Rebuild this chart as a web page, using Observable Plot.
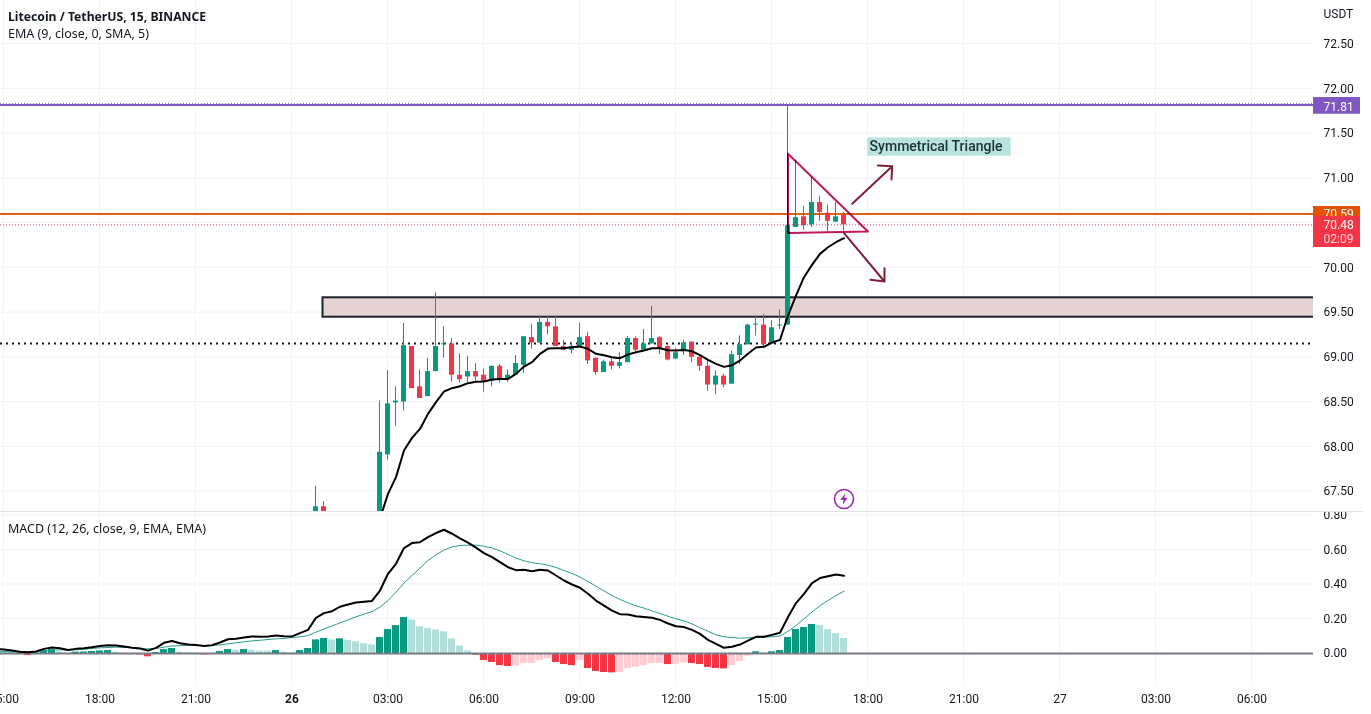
<!DOCTYPE html>
<html><head><meta charset="utf-8">
<script src="https://cdn.jsdelivr.net/npm/d3@7"></script>
<script src="https://cdn.jsdelivr.net/npm/@observablehq/plot@0.6"></script>
<style>html,body{margin:0;padding:0;background:#fff;overflow:hidden}svg{display:block;max-width:none}#a,#b{width:1371px}</style>
</head><body><div id="a"></div><div id="b"></div>
<script>
// bar index: 0 = 26th 00:00, one bar = 15 minutes
const candleBars=[3,4,11,12,13,14,15,16,17,18,19,20,21,22,23,24,25,26,27,28,29,30,31,32,33,34,35,36,37,38,39,40,41,42,43,44,45,46,47,48,49,50,51,52,53,54,55,56,57,58,59,60,61,62,63,64,65,66,67,68,69];
const opens=[67.24,67.33,66.9,67.91,68.49,68.5,69.12,68.67,68.56,68.84,69.14,69.15,68.8,68.78,68.84,68.8,68.73,68.9,68.75,68.8,68.91,69.22,69.16,69.39,69.34,69.12,69.08,69.12,69.23,68.99,68.83,68.95,68.9,68.94,69.21,69.08,69.15,69.22,69.12,68.98,69.06,69.17,69,68.9,68.69,68.79,68.7,69.02,69.14,69.36,69.36,69.15,69.35,69.36,70.45,70.57,70.48,70.73,70.61,70.51,70.59];
const highs=[67.56,67.39,68.51,68.85,68.67,69.38,69.12,68.86,68.99,69.72,69.34,69.21,69.04,69.01,68.93,68.87,68.9,68.92,68.86,69.02,69.23,69.37,69.46,69.46,69.46,69.19,69.17,69.38,69.28,68.99,68.97,69.01,69.05,69.23,69.23,69.31,69.57,69.23,69.13,69.1,69.19,69.17,69.02,68.97,68.85,68.81,69.07,69.24,69.37,69.46,69.48,69.41,69.53,71.81,71.2,70.69,71.01,70.8,70.7,70.73,70.62];
const lows=[67.2,67.2,66.8,67.85,68.23,68.4,68.65,68.54,68.56,68.84,68.99,68.72,68.71,68.72,68.72,68.61,68.67,68.71,68.72,68.8,68.82,69.09,69.16,69.25,69.12,69.08,69.04,69.12,68.92,68.8,68.83,68.86,68.87,68.94,69.06,69.08,69.15,69.03,68.96,68.98,69.02,68.94,68.84,68.62,68.58,68.66,68.7,68.92,69.14,69.24,69.11,69.15,69.31,69.36,70.45,70.42,70.45,70.52,70.4,70.51,70.4];
const closes=[67.33,67.24,67.94,68.48,68.51,69.13,68.65,68.54,68.84,69.12,69.15,68.8,68.75,68.84,68.78,68.73,68.9,68.75,68.8,68.93,69.23,69.16,69.39,69.34,69.12,69.08,69.12,69.22,68.96,68.83,68.95,68.9,68.94,69.21,69.08,69.15,69.21,69.09,68.97,69.05,69.16,69,68.9,68.69,68.79,68.69,69.03,69.14,69.36,69.37,69.14,69.33,69.36,70.47,70.56,70.47,70.73,70.62,70.52,70.57,70.48];

const emaFirstBar=11;
const emaValues=[67.2,67.474,67.661,67.959,68.1,68.2,68.368,68.499,68.618,68.655,68.677,68.711,68.726,68.73,68.752,68.759,68.759,68.815,68.897,68.945,69.039,69.098,69.102,69.102,69.113,69.121,69.094,69.039,69.024,69.001,68.99,69.031,69.057,69.076,69.102,69.102,69.08,69.076,69.083,69.068,69.024,68.972,68.927,68.893,68.912,68.964,69.039,69.109,69.117,69.165,69.195,69.467,69.69,69.895,70.033,70.156,70.23,70.286,70.331];

const macdFirstBar=-37;
const macdValues=[.027,.023,.017,.01,.008,.012,.027,.035,.031,.021,.027,.031,.037,.044,.048,.046,.041,.033,.029,.017,.033,.062,.073,.06,.052,.05,.044,.048,.064,.083,.085,.093,.099,.097,.099,.104,.1,.099,.118,.137,.207,.234,.245,.271,.284,.296,.3,.305,.365,.462,.52,.611,.64,.645,.674,.698,.717,.694,.667,.643,.613,.582,.558,.529,.5,.483,.485,.477,.485,.481,.452,.423,.4,.381,.346,.307,.278,.249,.228,.226,.216,.211,.207,.195,.174,.158,.153,.137,.114,.079,.056,.033,.039,.052,.075,.097,.097,.108,.12,.211,.292,.346,.408,.437,.448,.458,.45];
const signalValues=[.014,.012,.01,.008,.008,.01,.015,.019,.021,.021,.021,.025,.029,.033,.035,.037,.035,.035,.031,.027,.029,.037,.043,.046,.048,.048,.046,.046,.05,.056,.062,.068,.073,.077,.081,.085,.087,.093,.097,.104,.124,.143,.16,.178,.195,.213,.228,.243,.269,.307,.356,.408,.452,.495,.539,.572,.599,.618,.626,.628,.628,.622,.611,.595,.574,.553,.537,.526,.52,.512,.499,.481,.464,.443,.417,.39,.363,.336,.313,.294,.276,.263,.247,.232,.216,.201,.189,.172,.149,.129,.108,.097,.093,.089,.091,.093,.095,.097,.102,.129,.162,.201,.24,.278,.307,.336,.361];
const histValues=[.006,.006,.004,-.006,-.012,.002,.017,.023,.008,-.004,.008,.009,.012,.015,.017,.008,0,-.006,-.008,-.019,.006,.023,.029,.008,.004,.002,-.008,0,.012,.023,.019,.023,.019,.014,.013,.017,.008,.002,.017,.029,.079,.087,.079,.085,.075,.068,.056,.05,.093,.139,.162,.209,.193,.155,.145,.137,.126,.085,.044,.015,-.01,-.041,-.052,-.07,-.075,-.074,-.058,-.057,-.041,-.031,-.052,-.064,-.07,-.041,-.087,-.104,-.11,-.112,-.11,-.087,-.079,-.07,-.058,-.057,-.064,-.062,-.054,-.058,-.064,-.081,-.087,-.089,-.07,-.046,-.015,.01,.002,.01,.017,.093,.139,.151,.168,.162,.139,.116,.087];

const priceTicks=[67.5,68,68.5,69,69.5,70,71,71.5,72,72.5];
const priceGrid=[67.5,68,68.5,69,69.5,70,70.5,71,71.5,72,72.5];
const macdTicks=[0,.2,.4,.6,.8];
const timeTicks=[-36,-24,-12,12,24,36,48,60,72,84,96,108,120];
const timeLabels=["15:00","18:00","21:00","03:00","06:00","09:00","12:00","15:00","18:00","21:00","27","03:00","06:00"];
const dayTick=[0], dayLabel="26";
const gridBars=[-36,-24,-12,0,12,24,36,48,60,72,84,96,108,120];

const resistanceZone=[{x1:3.875,x2:130,y1:69.448,y2:69.665}];
const dottedLevel=[69.154], purpleLevel=[71.82], purpleDots=[71.835], orangeLevel=[70.6], lastPrice=[70.48];
const triangle=[[62,71.274],[72,70.406],[62,70.39],[62,71.274]];
const arrowUp=[[70.03,70.715],[75.03,71.135],[73.23,71.143],[75.03,71.135],[74.94,70.987]];
const arrowDown=[[68.98,70.391],[74.06,69.847],[72.31,69.866],[74.06,69.847],[74.06,69.996]];
const noteBox=[{x1:71.975,x2:89.9,y1:71.247,y2:71.452}];
const noteText=[{x:72.2,y:71.35,t:"Symmetrical Triangle"}];
const boltMark=[{x:69,y:67.417}];

const axisStart=127.69, axisEnd=133.56, axisLabelX=128.94;
const priceBoxes=[
 {y1:71.716,y2:71.903,c:"#7E57C2"},
 {y1:70.5,y2:70.685,c:"#E65100"},
 {y1:70.227,y2:70.573,c:"#F23645"}];
const boxLabels1=[{y:71.8,t:"71.81",c:"#fff"},{y:70.595,t:"70.59",c:"#fff"}];
const boxLabels2=[{y:70.473,t:"70.48",c:"#fff"},{y:70.316,t:"02:09",c:"#ffd0d5"}];

const UP="#089981", DOWN="#F23645", UP2="#B2DFDB", DOWN2="#FFCDD2";
const GRID="#f2f3f5", INK="#131722", LEG="'Noto Sans',sans-serif";

const candles=candleBars.map((b,k)=>({b,o:opens[k],h:highs[k],l:lows[k],c:closes[k],dir:closes[k]>=opens[k]?"up":"down"}));
const ema=emaValues.map((v,k)=>({b:emaFirstBar+k,v}));
const macd=macdValues.map((v,k)=>({b:macdFirstBar+k,v}));
const signal=signalValues.map((v,k)=>({b:macdFirstBar+k,v}));
const hist=histValues.map((v,k)=>{
  const prev=k?histValues[k-1]:v;
  const kind=v>=0?(v>prev?"up":"up2"):(v<prev?"down":"down2");
  return {b:macdFirstBar+k,v,kind};
});
const xDomain=[-36.4375,127.6875];
const pairs=a=>a.map(([x,y])=>({x,y}));
const bolt={draw(ctx,size){const r=Math.sqrt(size/Math.PI);
  const p=[[.25,-1],[-.6,.15],[-.05,.15],[-.25,1],[.6,-.2],[.05,-.2]];
  ctx.moveTo(p[0][0]*r,p[0][1]*r);for(const q of p.slice(1))ctx.lineTo(q[0]*r,q[1]*r);ctx.closePath();}};

const pricePlot=Plot.plot({
  width:1371,height:512,marginTop:0,marginBottom:0,marginLeft:0,marginRight:58,
  style:{fontFamily:"Roboto,sans-serif",fontSize:"12px",color:INK,background:"#fff"},
  x:{domain:xDomain,axis:null},
  y:{domain:[67.266,72.987],label:null},
  color:{domain:["up","down"],range:[UP,DOWN]},
  marks:[
    Plot.ruleX(gridBars,{stroke:GRID,dx:-.5}),
    Plot.ruleY(priceGrid,{stroke:GRID,dy:-.5}),
    Plot.axisY(priceTicks,{anchor:"right",tickSize:0,tickPadding:10,tickFormat:d=>d.toFixed(2),label:null,fill:INK}),
    Plot.text(["USDT"],{frameAnchor:"top-right",dx:10,dy:13.5,lineAnchor:"middle",textAnchor:"start",fill:INK,text:d=>d}),
    Plot.rect(resistanceZone,{x1:"x1",x2:"x2",y1:"y1",y2:"y2",fill:"#e5d2d2",stroke:"#1e222d",strokeWidth:2,clip:true}),
    Plot.ruleY(dottedLevel,{stroke:"#131722",strokeWidth:2,strokeDasharray:"2,4"}),
    Plot.ruleY(purpleLevel,{stroke:"#7E57C2",strokeWidth:2}),
    Plot.ruleY(purpleDots,{stroke:"#8f6f9f",strokeWidth:1,strokeDasharray:"1,2"}),
    Plot.ruleY(orangeLevel,{stroke:"#dd6312",strokeWidth:2}),
    Plot.ruleY(lastPrice,{stroke:"#d8406a",strokeWidth:1,strokeDasharray:"1,2"}),
    Plot.ruleX(candles,{x:"b",y1:"l",y2:"h",stroke:"dir",dx:-.5,clip:true}),
    Plot.rect(candles,{x1:d=>d.b-.3125,x2:d=>d.b+.3125,y1:"o",y2:"c",fill:"dir",clip:true}),
    Plot.line(ema,{x:"b",y:"v",stroke:"#000",strokeWidth:2,curve:"linear",clip:true}),
    Plot.line(pairs(triangle),{x:"x",y:"y",stroke:"#c2185b",strokeWidth:2,curve:"linear",mixBlendMode:"multiply"}),
    Plot.line(pairs(arrowUp),{x:"x",y:"y",stroke:"#801f35",strokeWidth:2,curve:"linear"}),
    Plot.line(pairs(arrowDown),{x:"x",y:"y",stroke:"#801f35",strokeWidth:2,curve:"linear"}),
    Plot.rect(noteBox,{x1:"x1",x2:"x2",y1:"y1",y2:"y2",fill:"#b9e3de"}),
    Plot.text(noteText,{x:"x",y:"y",text:"t",textAnchor:"start",fontSize:14,fontWeight:500,fill:"#1c3136"}),
    Plot.dot(boltMark,{x:"x",y:"y",r:9.5,stroke:"#9c27b0",strokeWidth:1.6,fill:"#fff"}),
    Plot.dot(boltMark,{x:"x",y:"y",r:6,symbol:bolt,fill:"#9c27b0",stroke:"none"}),
    Plot.rect(priceBoxes.slice(0,2),{x1:()=>axisStart,x2:()=>axisEnd,y1:"y1",y2:"y2",fill:d=>d.c}),
    Plot.text(boxLabels1,{x:()=>axisLabelX,y:"y",text:"t",textAnchor:"start",fill:d=>d.c}),
    Plot.rect(priceBoxes.slice(2),{x1:()=>axisStart,x2:()=>axisEnd,y1:"y1",y2:"y2",fill:d=>d.c}),
    Plot.text(boxLabels2,{x:()=>axisLabelX,y:"y",text:"t",textAnchor:"start",fill:d=>d.c}),
    Plot.text(["Litecoin / TetherUS, 15, BINANCE"],{frameAnchor:"top-left",dx:7.5,dy:16.5,lineAnchor:"middle",textAnchor:"start",fontFamily:LEG,fontSize:12.2,fontWeight:700,fill:INK,text:d=>d}),
    Plot.text(["EMA (9, close, 0, SMA, 5)"],{frameAnchor:"top-left",dx:7.5,dy:33,lineAnchor:"middle",textAnchor:"start",fontFamily:LEG,fontSize:12.5,fill:INK,text:d=>d}),
    Plot.ruleY([67.266],{stroke:"#e0e3eb",strokeWidth:1,x1:xDomain[0],x2:134,dy:-1})
  ]
});
document.getElementById("a").append(pricePlot);

const macdPlot=Plot.plot({
  width:1371,height:202,marginTop:0,marginBottom:28,marginLeft:0,marginRight:58,
  style:{fontFamily:"Roboto,sans-serif",fontSize:"12px",color:INK,background:"#fff"},
  x:{domain:xDomain,label:null},
  y:{domain:[-.191,.817],label:null},
  color:{domain:["up","up2","down","down2"],range:[UP,UP2,DOWN,DOWN2]},
  marks:[
    Plot.ruleX(gridBars,{stroke:GRID,dx:-.5}),
    Plot.ruleY(macdTicks.slice(1),{stroke:GRID,dy:-.5}),
    Plot.axisY(macdTicks,{anchor:"right",tickSize:0,tickPadding:10,tickFormat:d=>d.toFixed(2),label:null,fill:INK}),
    Plot.axisX(timeTicks,{anchor:"bottom",tickSize:0,tickPadding:8,tickFormat:d=>timeLabels[timeTicks.indexOf(d)],label:null,fill:INK}),
    Plot.axisX(dayTick,{anchor:"bottom",tickSize:0,tickPadding:8,tickFormat:()=>dayLabel,fontWeight:700,label:null,fill:INK}),
    Plot.rect(hist,{x1:d=>d.b-.4375,x2:d=>d.b+.4375,y1:()=>0,y2:"v",fill:"kind",clip:true}),
    Plot.ruleY([0],{stroke:"#787b86",strokeWidth:2}),
    Plot.line(signal,{x:"b",y:"v",stroke:"#2a9d8f",strokeWidth:1,curve:"linear",clip:true}),
    Plot.line(macd,{x:"b",y:"v",stroke:"#000",strokeWidth:2,curve:"linear",clip:true}),
    Plot.text(["MACD (12, 26, close, 9, EMA, EMA)"],{frameAnchor:"top-left",dx:7.5,dy:16,lineAnchor:"middle",textAnchor:"start",fontFamily:LEG,fontSize:12.5,fill:INK,text:d=>d})
  ]
});
document.getElementById("b").append(macdPlot);
</script></body></html>
